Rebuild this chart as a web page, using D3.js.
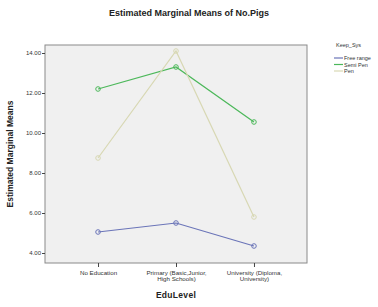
<!DOCTYPE html>
<html>
<head>
<meta charset="utf-8">
<script src="https://cdn.jsdelivr.net/npm/d3@7"></script>
<style>
  body { margin: 0; background: #fff; }
  text { font-family: Arial, "Liberation Sans", sans-serif; }
</style>
</head>
<body>
<svg id="chart" width="378" height="307"></svg>
<script>
const categories = [["No Education"], ["Primary (Basic,Junior,", "High Schools)"], ["University (Diploma,", "University)"]];
const seriesNames = ["Free range", "Semi Pen", "Pen"];
const freeRange = [5.05, 5.5, 4.35];
const semiPen = [12.2, 13.3, 10.55];
const pen = [8.75, 14.1, 5.8];
const yTicks = [4, 6, 8, 10, 12, 14];
const seriesColors = ["#6a74b8", "#4cb85a", "#d8d8b4"];

const series = [freeRange, semiPen, pen];

const svg = d3.select("#chart");
const margin = { left: 45, right: 71, top: 45, bottom: 44 };
const width = 378, height = 307;

const x = d3.scalePoint()
  .domain(categories.map((d, i) => i))
  .range([margin.left, width - margin.right])
  .padding(0.68);

const y = d3.scaleLinear()
  .domain([3.5, 14.4])
  .range([height - margin.bottom, margin.top]);

// plot background
svg.append("rect")
  .attr("x", margin.left)
  .attr("y", margin.top)
  .attr("width", width - margin.right - margin.left)
  .attr("height", height - margin.bottom - margin.top)
  .attr("fill", "#f0f0f0")
  .attr("stroke", "#8a8a8a")
  .attr("stroke-width", 1);

// title
svg.append("text")
  .attr("x", 189).attr("y", 16)
  .attr("text-anchor", "middle")
  .attr("style", "font-size: 9px; font-weight: bold;")
  .attr("fill", "#222")
  .text("Estimated Marginal Means of No.Pigs");

// y axis
const yAxis = svg.append("g")
  .attr("transform", `translate(${margin.left},0)`)
  .call(d3.axisLeft(y).tickValues(yTicks).tickFormat(d3.format(".2f")).tickSize(3).tickSizeOuter(0));
yAxis.select(".domain").remove();
yAxis.selectAll("line").attr("stroke", "#444");
yAxis.selectAll("text").attr("style", "font-size: 6px;").attr("fill", "#333").attr("x", -4);

// x axis
const xAxis = svg.append("g")
  .attr("transform", `translate(0,${height - margin.bottom})`)
  .call(d3.axisBottom(x).tickSize(4).tickFormat(""));
xAxis.select(".domain").remove();
xAxis.selectAll("line").attr("stroke", "#444");
xAxis.selectAll(".tick").each(function (d) {
  const t = d3.select(this).append("text")
    .attr("fill", "#333")
    .attr("text-anchor", "middle")
    .attr("style", "font-size: 6.2px;");
  categories[d].forEach((line, j) => {
    t.append("tspan").attr("x", 0).attr("y", 12 + j * 6).text(line);
  });
});

// axis titles
svg.append("text")
  .attr("transform", `translate(13,${(margin.top + height - margin.bottom) / 2}) rotate(-90)`)
  .attr("text-anchor", "middle")
  .attr("style", "font-size: 8.5px; font-weight: bold;")
  .attr("fill", "#222")
  .text("Estimated Marginal Means");

svg.append("text")
  .attr("x", x(1)).attr("y", 298)
  .attr("text-anchor", "middle")
  .attr("style", "font-size: 8.5px; font-weight: bold; letter-spacing: 0.3px;")
  .attr("fill", "#222")
  .text("EduLevel");

// lines + markers
const line = d3.line().x((d, i) => x(i)).y(d => y(d));
series.forEach((vals, s) => {
  svg.append("path")
    .datum(vals)
    .attr("d", line)
    .attr("fill", "none")
    .attr("stroke", seriesColors[s])
    .attr("stroke-width", 1.2);
  svg.append("g")
    .selectAll("circle")
    .data(vals)
    .join("circle")
    .attr("cx", (d, i) => x(i))
    .attr("cy", d => y(d))
    .attr("r", 2.3)
    .attr("fill", "none")
    .attr("stroke", seriesColors[s])
    .attr("stroke-width", 1);
});

// legend
const lg = svg.append("g").attr("transform", "translate(336,0)");
lg.append("text")
  .attr("x", 0).attr("y", 47)
  .attr("style", "font-size: 5.5px;")
  .attr("fill", "#333")
  .text("Keep_Sys");
seriesNames.forEach((name, i) => {
  const yy = 58 + i * 6.5;
  lg.append("line")
    .attr("x1", -2).attr("x2", 7)
    .attr("y1", yy).attr("y2", yy)
    .attr("stroke", seriesColors[i]).attr("stroke-width", 1.2);
  lg.append("text")
    .attr("x", 8).attr("y", yy + 2)
    .attr("style", "font-size: 5.5px;")
    .attr("fill", "#333")
    .text(name);
});
</script>
</body>
</html>
